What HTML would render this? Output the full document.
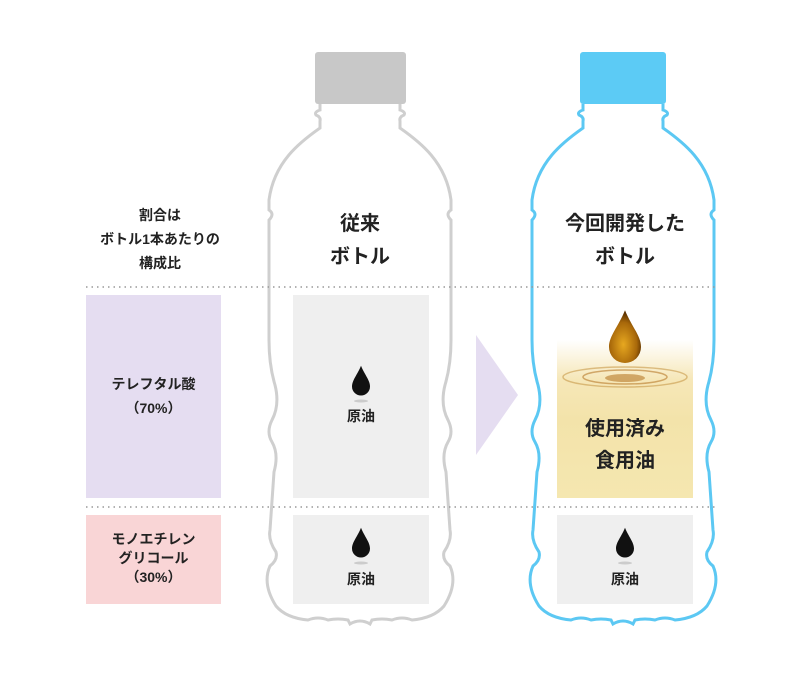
<!DOCTYPE html>
<html><head><meta charset="utf-8"><style>
body{margin:0;background:#fff;}
.wrap{position:relative;width:800px;height:689px;overflow:hidden;font-family:"Liberation Sans","Noto Sans CJK JP",sans-serif;}
.t{position:absolute;text-align:center;color:#222;font-weight:bold;}
</style></head><body><div class="wrap">
<svg width="800" height="689" style="position:absolute;left:0;top:0">
<defs>
<path id="bot" d="M-40,104 L-40,110 q-6,2 -4,5 q5,2 4,6 L-40,128 C-60,142 -86,162 -91,200 L-91,210 q6,4 0,10 L-91,340 q0,25 6,45 q5,20 -3,35 q-6,12 0,22 q7,12 2,30 L-90,530 q-2,10 6,22 q2,8 -6,14 q-8,18 6,40 q10,12 32,14 q10,-4 20,0 q10,-2 20,0 L-10,624 q10,-6 20,0 L12,620 q10,-2 20,0 q10,-4 20,0 q22,-2 32,-14 q14,-22 6,-40 q-8,-6 -6,-14 q8,-12 6,-22 L86,472 q-5,-18 2,-30 q6,-10 0,-22 q-8,-15 -3,-35 q6,-20 6,-45 L91,220 q-6,-6 0,-10 L91,200 C86,162 60,142 40,128 L40,121 q-1,-4 4,-6 q2,-3 -4,-5 L40,104"/>
<linearGradient id="yg" x1="0" y1="0" x2="0" y2="1"><stop offset="0" stop-color="#fff"/><stop offset="0.25" stop-color="#f6e7b8"/><stop offset="0.5" stop-color="#f3e3aa"/><stop offset="1" stop-color="#f5e7b0"/></linearGradient>
<radialGradient id="og" cx="0.45" cy="0.65" r="0.6"><stop offset="0" stop-color="#e7a820"/><stop offset="0.7" stop-color="#a8680a"/><stop offset="1" stop-color="#5a3000"/></radialGradient>
<path id="drop" d="M0,-18 C4,-8 10,-2 10,5 A10,10 0 0 1 -10,5 C-10,-2 -4,-8 0,-18Z"/>
</defs>
<rect x="86" y="295" width="135" height="203" fill="#e5ddf1"/>
<rect x="86" y="515" width="135" height="89" fill="#f9d5d6"/>
<rect x="315" y="52" width="91" height="52" rx="3" fill="#c8c8c8"/>
<use href="#bot" transform="translate(360,0)" fill="none" stroke="#cfcfcf" stroke-width="3"/>
<rect x="293" y="295" width="136" height="203" fill="#efefef"/>
<rect x="293" y="515" width="136" height="89" fill="#efefef"/>
<rect x="580" y="52" width="86" height="52" rx="3" fill="#5ccbf5"/>
<use href="#bot" transform="translate(623,0)" fill="none" stroke="#5cc8f3" stroke-width="3"/>
<rect x="557" y="340" width="136" height="158" fill="url(#yg)"/>
<rect x="557" y="515" width="136" height="89" fill="#efefef"/>
<polygon points="476,335 518,395 476,455" fill="#e5ddf1"/>
<line x1="86" y1="287" x2="715" y2="287" stroke="#999" stroke-width="1.5" stroke-dasharray="1.5 4"/>
<line x1="86" y1="507" x2="715" y2="507" stroke="#999" stroke-width="1.5" stroke-dasharray="1.5 4"/>
<use href="#drop" transform="translate(361,382) scale(0.9)" fill="#111"/>
<ellipse cx="361" cy="401" rx="7" ry="1.5" fill="#ccc"/>
<use href="#drop" transform="translate(361,544) scale(0.9)" fill="#111"/>
<ellipse cx="361" cy="563" rx="7" ry="1.5" fill="#ccc"/>
<use href="#drop" transform="translate(625,544) scale(0.9)" fill="#111"/>
<ellipse cx="625" cy="563" rx="7" ry="1.5" fill="#ccc"/>
<ellipse cx="625" cy="377" rx="62" ry="10" fill="none" stroke="#c89a4a" stroke-width="1.5" opacity="0.6"/>
<ellipse cx="625" cy="377" rx="42" ry="7" fill="none" stroke="#b87a2a" stroke-width="1.5" opacity="0.6"/>
<ellipse cx="625" cy="378" rx="20" ry="4" fill="#b77a2a" opacity="0.6"/>
<use href="#drop" transform="translate(625,339) scale(1.6)" fill="url(#og)"/>
</svg>
<div class="t" style="left:60px;top:203px;width:200px;font-size:14px;line-height:24px;">割合は<br>ボトル1本あたりの<br>構成比</div>
<div class="t" style="left:270px;top:208px;width:180px;font-size:20px;line-height:33px;">従来<br>ボトル</div>
<div class="t" style="left:530px;top:208px;width:190px;font-size:20px;line-height:33px;">今回開発した<br>ボトル</div>
<div class="t" style="left:86px;top:372px;width:135px;font-size:14px;line-height:24px;">テレフタル酸<br>（70%）</div>
<div class="t" style="left:86px;top:530px;width:135px;font-size:14px;line-height:19px;">モノエチレン<br>グリコール<br>（30%）</div>
<div class="t" style="left:293px;top:406px;width:136px;font-size:14px;">原油</div>
<div class="t" style="left:293px;top:569px;width:136px;font-size:14px;">原油</div>
<div class="t" style="left:557px;top:569px;width:136px;font-size:14px;">原油</div>
<div class="t" style="left:557px;top:413px;width:136px;font-size:20px;line-height:32px;">使用済み<br>食用油</div>
</div></body></html>
